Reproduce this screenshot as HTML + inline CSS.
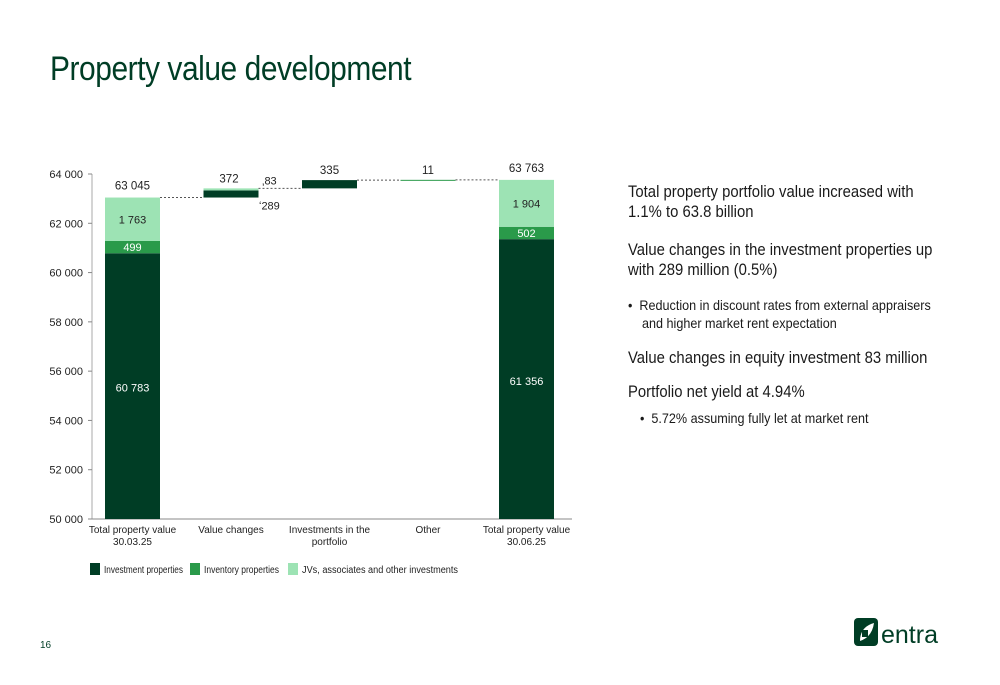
<!DOCTYPE html>
<html><head><meta charset="utf-8"><style>
body{margin:0;width:1000px;height:685px;background:#fff;font-family:"Liberation Sans",sans-serif;position:relative;overflow:hidden}
.t{position:absolute;color:#1a1a1a}
h1{position:absolute;left:50px;top:50px;margin:0;font-weight:300;font-size:34px;color:#003d25;letter-spacing:-0.5px;transform:scaleX(0.88);transform-origin:left}
.r{position:absolute;left:628px;font-size:16.5px;color:#1a1a1a;transform:scaleX(0.9);transform-origin:left;line-height:20px}
.b{position:absolute;left:628px;font-size:14px;color:#1a1a1a;transform:scaleX(0.9);transform-origin:left;line-height:18px}
</style></head><body>
<h1>Property value development</h1>
<svg id="chart" width="1000" height="685" style="position:absolute;left:0;top:0"></svg>
<div class="r" style="top:182px">Total property portfolio value increased with<br>1.1% to 63.8 billion</div>
<div class="r" style="top:240px">Value changes in the investment properties up<br>with 289 million (0.5%)</div>
<div class="b" style="top:296px">•&nbsp; Reduction in discount rates from external appraisers<br>&nbsp;&nbsp;&nbsp; and higher market rent expectation</div>
<div class="r" style="top:348px">Value changes in equity investment 83 million</div>
<div class="r" style="top:382px">Portfolio net yield at 4.94%</div>
<div class="b" style="top:409px;left:640px">•&nbsp; 5.72% assuming fully let at market rent</div>
<div class="t" style="left:40px;top:640px;font-size:10px;color:#003d25">16</div>
<svg width="110" height="40" style="position:absolute;left:850px;top:615px">
<rect x="4" y="3" width="24" height="28" rx="4" fill="#003d25"/>
<path d="M10 26 Q10 12 24 8 Q22 22 10 26Z" fill="#fff"/>
<rect x="12" y="15" width="6" height="7" fill="#003d25"/>
<text x="31" y="28" font-size="25" fill="#003d25" font-family="Liberation Sans">entra</text>
</svg>
<script>
const categories=["Total property value|30.03.25","Value changes","Investments in the|portfolio","Other","Total property value|30.06.25"];
const investment=[60783,289,335,0,61356];
const inventory=[499,0,0,11,502];
const jvs=[1763,83,0,0,1904];
const totalLabels=["63 045","372","335","11","63 763"];
const segLabels=[["60 783","499","1 763"],null,null,null,["61 356","502","1 904"]];
const ticks=[50000,52000,54000,56000,58000,60000,62000,64000];
const isTotal=[true,false,false,false,true];
const NS="http://www.w3.org/2000/svg";
const svg=document.getElementById('chart');
const YMIN=50000;
const y=v=>519-(v-YMIN)*345/14000;
const xc=i=>132.5+i*98.5;
const C=['#003d25','#2a9a4a','#9de3b4'];
function el(t,a,txt){const e=document.createElementNS(NS,t);for(const k in a)e.setAttribute(k,a[k]);if(txt!=null)e.textContent=txt;svg.appendChild(e);return e;}
const ax=el('line',{x1:92,y1:174,x2:92,y2:519,stroke:'#aaa'});

const xa=el('line',{x1:92,y1:519,x2:572,y2:519,stroke:'#888'});

ticks.forEach(t=>{el('line',{x1:88,y1:y(t),x2:92,y2:y(t),stroke:'#888'});
const tl=el('text',{x:83,y:y(t)+4,'text-anchor':'end','font-size':11,fill:'#222'},String(t).replace(/(\d)(\d{3})$/,'$1 $2'));
});
let run=0;
categories.forEach((c,i)=>{
 const base=isTotal[i]?0:run;
 let cur=base;
 [investment[i],inventory[i],jvs[i]].forEach((v,k)=>{ if(!v)return;
  const lo=Math.max(cur,YMIN);
  const r=el('rect',{x:xc(i)-27.5,y:y(cur+v),width:55,height:Math.max(1,y(lo)-y(cur+v)),fill:C[k]});
  
  if(segLabels[i]){
   let ly=(y(lo)+y(cur+v))/2+4;
   if(k==0)ly=y(cur+v)+(i==0?138:146);
   const lb=el('text',{x:xc(i),y:ly,'text-anchor':'middle','font-size':11,fill:k==2?'#222':'#fff'},segLabels[i][k]);
   }
  cur+=v;});
 const top=cur;
 if(i>0){el('line',{x1:xc(i-1)+27.5,y1:y(run),x2:xc(i)-27.5,y2:y(run),stroke:'#555','stroke-dasharray':'2,2'});}
 run=top;
 const tlab=el('text',{x:xc(i)+(i==1?-2:0),y:y(top)-(isTotal[i]?8:6),'text-anchor':'middle','font-size':11.5,fill:'#222'},totalLabels[i]);
 
 const parts=c.split('|');
 parts.forEach((p,j)=>{const xl=el('text',{x:xc(i),y:533+j*12,'text-anchor':'middle','font-size':10,fill:'#222'},p);
 });
});
const l1=el('text',{x:262,y:y(63417)-4,'font-size':11,fill:'#222'},'\u201a'+jvs[1]);
const l2=el('text',{x:259,y:y(63045)+12,'font-size':11,fill:'#222'},'\u02bb'+investment[1]);
const leg=[['Investment properties',90,79],['Inventory properties',190,75],['JVs, associates and other investments',288,156]];
leg.forEach((l,k)=>{const r=el('rect',{x:l[1],y:563,width:10,height:12,fill:C[k]});
const t=el('text',{x:l[1]+14,y:573,'font-size':10,fill:'#222',textLength:l[2],lengthAdjust:'spacingAndGlyphs'},l[0]);});
</script>
</body></html>
